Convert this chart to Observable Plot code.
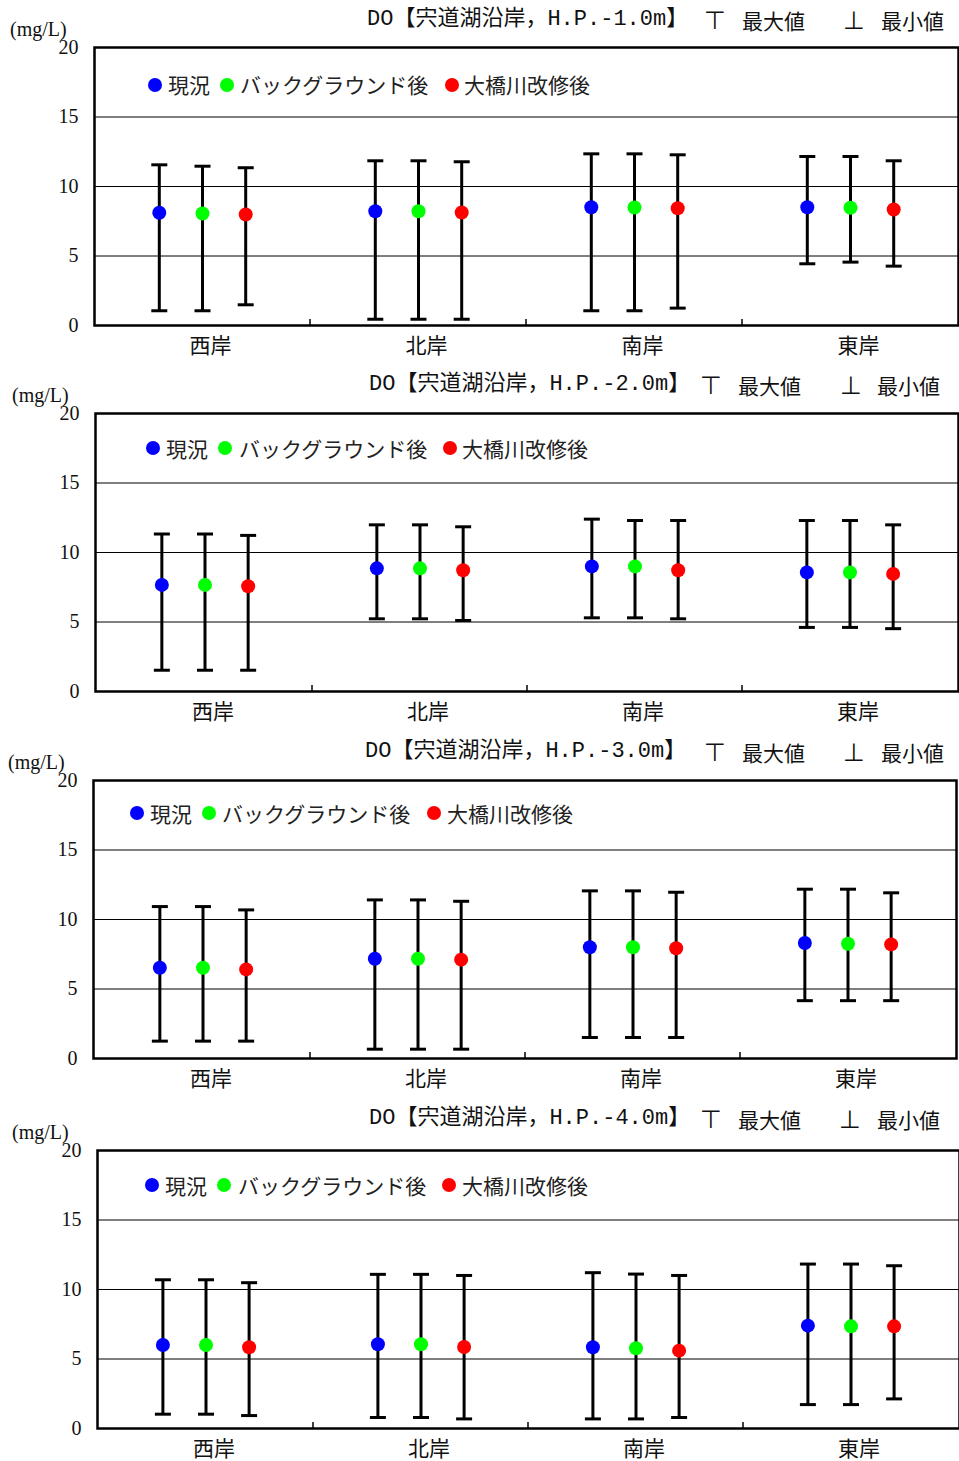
<!DOCTYPE html>
<html><head><meta charset="utf-8">
<script src="https://cdn.jsdelivr.net/npm/d3@7"></script>
<script src="https://cdn.jsdelivr.net/npm/@observablehq/plot@0.6"></script>
<style>
body{margin:0;background:#fff;}
#root{position:relative;width:959px;height:1461px;overflow:hidden;background:#fff;}
.abs{position:absolute;white-space:nowrap;line-height:1;color:#111;}
.title{font-family:"Liberation Mono","Noto Sans CJK JP",monospace;font-size:22px;}
.sym{font-family:"DejaVu Sans",sans-serif;font-size:25px;}
.cj{font-family:"Noto Sans CJK JP",sans-serif;font-size:21px;}
.unit{font-family:"Liberation Serif",serif;font-size:20px;}
.leg{font-family:"Noto Sans CJK JP",sans-serif;font-size:21px;color:#222;}
.ldot{position:absolute;width:14px;height:14px;border-radius:50%;}
svg{position:absolute;left:0;overflow:visible;}
</style></head><body><div id="root"></div>
<script>
// ---- data ----
const categories = ["西岸", "北岸", "南岸", "東岸"];
const seriesNames = ["現況", "バックグラウンド後", "大橋川改修後"];
const seriesColors = ["#0000ff", "#00ff00", "#ff0000"];
const depthLabels = ["-1.0", "-2.0", "-3.0", "-4.0"];
const yTicks = [0, 5, 10, 15, 20];
const yGrid = [5, 10, 15];

// rows: series (現況, バックグラウンド後, 大橋川改修後); columns: categories
const meanHP1 = [[8.11, 8.22, 8.51, 8.51], [8.06, 8.22, 8.49, 8.47], [7.99, 8.13, 8.44, 8.35]];
const maxHP1  = [[11.56, 11.85, 12.35, 12.16], [11.46, 11.85, 12.35, 12.16], [11.35, 11.78, 12.28, 11.85]];
const minHP1  = [[1.06, 0.45, 1.06, 4.44], [1.06, 0.45, 1.06, 4.56], [1.49, 0.45, 1.25, 4.27]];

const meanHP2 = [[7.67, 8.86, 9.00, 8.57], [7.67, 8.86, 9.00, 8.57], [7.57, 8.72, 8.72, 8.46]];
const maxHP2  = [[11.33, 11.99, 12.40, 12.30], [11.33, 11.99, 12.30, 12.30], [11.23, 11.85, 12.30, 11.99]];
const minHP2  = [[1.53, 5.23, 5.30, 4.61], [1.53, 5.23, 5.30, 4.61], [1.53, 5.11, 5.23, 4.52]];

const meanHP3 = [[6.53, 7.18, 8.00, 8.31], [6.53, 7.18, 8.00, 8.26], [6.41, 7.11, 7.93, 8.21]];
const maxHP3  = [[10.93, 11.41, 12.06, 12.18], [10.93, 11.41, 12.06, 12.18], [10.69, 11.31, 11.96, 11.92]];
const minHP3  = [[1.25, 0.67, 1.51, 4.16], [1.25, 0.67, 1.51, 4.16], [1.25, 0.67, 1.51, 4.16]];

const meanHP4 = [[6.01, 6.06, 5.84, 7.40], [6.01, 6.06, 5.77, 7.35], [5.84, 5.86, 5.60, 7.35]];
const maxHP4  = [[10.70, 11.09, 11.21, 11.83], [10.70, 11.09, 11.11, 11.83], [10.49, 11.01, 11.01, 11.71]];
const minHP4  = [[1.03, 0.79, 0.69, 1.72], [1.03, 0.79, 0.69, 1.72], [0.93, 0.69, 0.79, 2.13]];

const panelMeans = [meanHP1, meanHP2, meanHP3, meanHP4];
const panelMaxs = [maxHP1, maxHP2, maxHP3, maxHP4];
const panelMins = [minHP1, minHP2, minHP3, minHP4];

// ---- layout (positions only) ----
const layout = [
  {top: 47, left: 94, right: 958, titleX: 367, tX: 704, maxX: 742, bX: 843, minX: 881, titleDy: -27,
   unitX: 10, unitDy: -18, legDy: 37.7, dots: [155, 227, 452], texts: [168, 240, 464]},
  {top: 413, left: 95, right: 958, titleX: 369, tX: 700, maxX: 738, bX: 840, minX: 877, titleDy: -28,
   unitX: 12, unitDy: -18, legDy: 35.3, dots: [153, 225, 450], texts: [166, 239, 462]},
  {top: 780, left: 93, right: 956, titleX: 365, tX: 704, maxX: 742, bX: 843, minX: 881, titleDy: -28,
   unitX: 8, unitDy: -18, legDy: 33, dots: [137, 209, 434], texts: [150, 222, 447]},
  {top: 1150, left: 97, right: 959, titleX: 369, tX: 700, maxX: 738, bX: 839, minX: 877, titleDy: -31,
   unitX: 12, unitDy: -18, legDy: 35, dots: [152, 224, 449], texts: [165, 238, 462]}
];
const W = 959, MT = 12, MB = 40, FH = 278;

const capSymbol = {
  draw(ctx, size) { const r = Math.sqrt(size / Math.PI); ctx.moveTo(-r, 0); ctx.lineTo(r, 0); }
};

const root = document.getElementById("root");
function addText(cls, text, x, yCenter, size) {
  const d = document.createElement("div");
  d.className = "abs " + cls;
  d.textContent = text;
  d.style.left = x + "px";
  d.style.top = (yCenter - size / 2) + "px";
  root.appendChild(d);
  return d;
}

layout.forEach((L, p) => {
  const rows = [];
  seriesNames.forEach((s, si) => categories.forEach((c, ci) => rows.push({
    cat: c, series: s, si,
    mean: panelMeans[p][si][ci], max: panelMaxs[p][si][ci], min: panelMins[p][si][ci]
  })));
  const bw = (L.right - L.left) / categories.length;
  const offs = [-bw / 5, 0, bw / 5];

  const marks = [
    Plot.ruleY(yGrid, {stroke: "black", strokeWidth: 1})
  ];
  seriesNames.forEach((s, si) => {
    const d = rows.filter(r => r.si === si);
    marks.push(Plot.ruleX(d, {x: "cat", y1: "min", y2: "max", dx: offs[si], stroke: "black", strokeWidth: 3}));
    marks.push(Plot.dot(d, {x: "cat", y: "max", dx: offs[si], symbol: capSymbol, r: 8, fill: "none", stroke: "black", strokeWidth: 3}));
    marks.push(Plot.dot(d, {x: "cat", y: "min", dx: offs[si], symbol: capSymbol, r: 8, fill: "none", stroke: "black", strokeWidth: 3}));
  });
  seriesNames.forEach((s, si) => {
    const d = rows.filter(r => r.si === si);
    marks.push(Plot.dot(d, {x: "cat", y: "mean", dx: offs[si], r: 7, fill: seriesColors[si], stroke: "none"}));
  });
  // category boundary ticks, from the x scale
  marks.push((index, scales, values, dims) => {
    const g = d3.create("svg:g");
    const yb = dims.height - dims.marginBottom;
    categories.slice(1).forEach(c => {
      const x = scales.x(c);
      g.append("line").attr("x1", x).attr("x2", x).attr("y1", yb).attr("y2", yb - 6)
        .attr("stroke", "black").attr("stroke-width", 1.5);
    });
    return g.node();
  });
  marks.push(Plot.frame({stroke: "black", strokeWidth: 2.5}));
  const hasAxisMarks = typeof Plot.axisX === "function";
  if (hasAxisMarks) {
    marks.push(Plot.axisX({tickSize: 0, tickPadding: 13, label: null, fontSize: 21, fontFamily: "Noto Sans CJK JP", dx: 8, fill: "#111"}));
    marks.push(Plot.axisY({ticks: yTicks, tickSize: 0, tickPadding: 16, label: null, fontSize: 20, fontFamily: "Liberation Serif", fill: "#111"}));
  }

  const chart = Plot.plot({
    width: W,
    height: MT + FH + MB,
    marginTop: MT, marginBottom: MB,
    marginLeft: L.left, marginRight: W - L.right,
    x: {type: "band", domain: categories, padding: 0, label: null, axis: hasAxisMarks ? null : "bottom", tickSize: 0},
    y: {domain: [0, 20], ticks: yTicks, label: null, axis: hasAxisMarks ? null : "left", tickSize: 0, tickPadding: 16},
    style: {background: "transparent", color: "black"},
    marks
  });
  chart.style.top = (L.top - MT) + "px";
  root.appendChild(chart);

  // title line
  const ty = L.top + L.titleDy;
  addText("title", "DO【宍道湖沿岸，H.P." + depthLabels[p] + "m】", L.titleX, ty, 22);
  addText("sym", "⊤", L.tX, ty, 25);
  addText("cj", "最大値", L.maxX, ty, 21);
  addText("sym", "⊥", L.bX, ty, 25);
  addText("cj", "最小値", L.minX, ty, 21);
  // unit
  addText("unit", "(mg/L)", L.unitX, L.top + L.unitDy, 20);
  // legend
  const ly = L.top + L.legDy;
  seriesNames.forEach((s, si) => {
    const dot = document.createElement("div");
    dot.className = "ldot";
    dot.style.background = seriesColors[si];
    dot.style.left = (L.dots[si] - 7) + "px";
    dot.style.top = (ly - 7) + "px";
    root.appendChild(dot);
    addText("leg", s, L.texts[si], ly, 21);
  });
});
</script></body></html>
